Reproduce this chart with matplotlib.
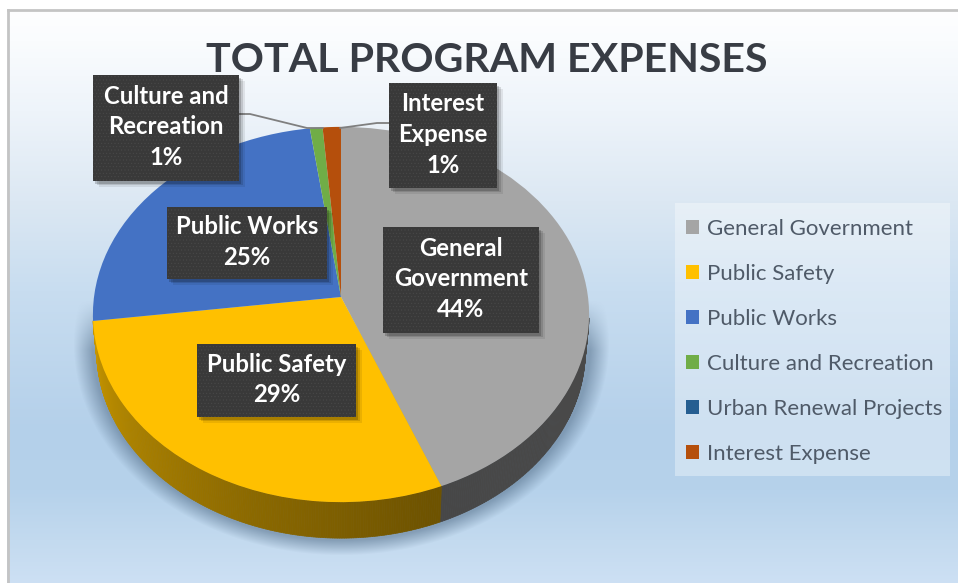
import numpy as np
import matplotlib
matplotlib.use("Agg")
import matplotlib.pyplot as plt
from matplotlib.collections import PolyCollection
from matplotlib.colors import to_rgb
from matplotlib.patches import Rectangle
from matplotlib.transforms import Transform

title = "TOTAL PROGRAM EXPENSES"
categories = ["General Government", "Public Safety", "Public Works",
              "Culture and Recreation", "Urban Renewal Projects", "Interest Expense"]
values = [43.9, 29.0, 24.8, 0.9, 0.0, 1.3]
shown_pct = ["44%", "29%", "25%", "1%", "", "1%"]
colors = ["#a5a5a5", "#ffc000", "#4472c4", "#70ad47", "#255e91", "#b54f0c"]

W, H = 958, 583
CX, CY, RX, RY, K, DEPTH = 341.0, 297.0, 247.0, 186.0, 0.0933, 36.0


def project(x, y):
    w = 1 + K * y
    return CX + RX * x / w, CY - RY * y / w


class Perspective(Transform):
    input_dims = output_dims = 2
    is_affine = False

    def transform_non_affine(self, pts):
        pts = np.asarray(pts, float)
        X, Y = project(pts[:, 0], pts[:, 1])
        return np.column_stack([X, Y])

    def inverted(self):
        raise NotImplementedError


plt.rcParams["font.family"] = ["Lato", "DejaVu Sans"]
plt.rcParams["hatch.linewidth"] = 0.35
fig = plt.figure(figsize=(W / 100, H / 100), dpi=100, facecolor="white")
ax = fig.add_axes([0, 0, 1, 1])

wedges, _ = ax.pie(values, colors=colors, startangle=90, counterclock=False,
                   radius=1.0, center=(0, 0), wedgeprops={"linewidth": 0})
persp = Perspective() + ax.transData
for w in wedges:
    w.set_transform(persp)
    w.set_zorder(5)
    w.set_clip_on(False)

# background
yy, xx = np.mgrid[0:H, 0:W]
stops_y = [10, 40, 110, 200, 290, 430, 490, 540, 583]
stops_r = [254, 250, 238, 220, 200, 180, 182, 195, 205]
stops_g = [254, 252, 244, 232, 221, 208, 210, 218, 224]
stops_b = [255, 254, 250, 243, 240, 234, 235, 239, 244]
bg = np.dstack([np.interp(yy, stops_y, s) for s in (stops_r, stops_g, stops_b)]) / 255.0
ax.imshow(bg, extent=(0, W, H, 0), aspect="auto", zorder=0, interpolation="bilinear")

# soft shadow
ds = np.sqrt(((xx - CX) / 268.0) ** 2 + ((yy - 343.0) / 212.0) ** 2)
alpha = np.clip((1 - ds) / 0.07, 0, 1) * np.clip((yy - 300) / 50.0, 0, 1) * 0.5
shadow = np.zeros((H, W, 4))
shadow[..., :3] = to_rgb("#4a6580")
shadow[..., 3] = alpha
ax.imshow(shadow, extent=(0, W, H, 0), aspect="auto", zorder=1, interpolation="bilinear")

# side wall, built from the same values as the wedges
ends = np.cumsum(values) / np.sum(values) * 360.0
starts = np.concatenate([[0.0], ends[:-1]])
verts, facecols = [], []
for s, e, c in zip(starts, ends, colors):
    if e <= s or s > 180:
        continue
    th = np.linspace(s, e, max(2, int((e - s) * 2)))
    base = np.array(to_rgb(c))
    for a, b in zip(th[:-1], th[1:]):
        if a < 96:
            continue
        ra, rb = np.radians([a, b])
        x0, y0 = project(np.sin(ra), np.cos(ra))
        x1, y1 = project(np.sin(rb), np.cos(rb))
        sx = 0.985
        verts.append([(x0, y0), (x1, y1),
                      (CX + (x1 - CX) * sx, y1 + DEPTH), (CX + (x0 - CX) * sx, y0 + DEPTH)])
        shade = np.interp(a, [90, 160, 200, 263], [0.45, 0.43, 0.55, 0.78])
        facecols.append(base * shade)
ax.add_collection(PolyCollection(verts, facecolors=facecols, edgecolors=facecols,
                                 linewidths=0.5, zorder=3))

# frame
ax.plot([8, 8], [H, 10], color="#c4c4c4", lw=2, zorder=6)
ax.plot([8, W], [10, 10], color="#c4c4c4", lw=2, zorder=6)
ax.add_patch(Rectangle((0, 0), 7, H, facecolor="white", lw=0, zorder=5.5))
ax.add_patch(Rectangle((0, 0), W, 9, facecolor="white", lw=0, zorder=5.5))

ax.text(487, 60, title, ha="center", va="center", fontsize=29.6, fontweight="bold",
        color="#383c44", zorder=7)

# leader lines
for lx, ly in [((239, 250, 307, 323), (114, 114, 128, 128)),
               ((340, 377, 389), (128, 123, 123))]:
    ax.plot(lx, ly, color="#7f7f7f", lw=1.3, zorder=7, solid_capstyle="round")

# data labels
boxes = [(383, 227, 539, 333), (197, 344, 356, 417), (167, 207, 327, 279),
         (93, 75, 239, 181), None, (389, 83, 497, 188)]
texts = ["General\nGovernment", "Public Safety", "Public Works",
         "Culture and\nRecreation", "", "Interest\nExpense"]
for box, txt, pct in zip(boxes, texts, shown_pct):
    if box is None:
        continue
    x0, y0, x1, y1 = box
    for off, a in [(6, 0.08), (4, 0.12), (2.5, 0.18)]:
        ax.add_patch(Rectangle((x0 + off, y0 + off), x1 - x0, y1 - y0, facecolor="black",
                               alpha=a, lw=0, zorder=8))
    ax.add_patch(Rectangle((x0, y0), x1 - x0, y1 - y0, facecolor="#393939",
                           edgecolor="#4a4a4a", hatch=".....", lw=0, zorder=9))
    ax.text((x0 + x1) / 2, (y0 + y1) / 2 - 1, txt + "\n" + pct, ha="center", va="center",
            color="white", fontsize=17.2, fontweight="bold", linespacing=1.42, zorder=10)

# legend panel and legend
ax.add_patch(Rectangle((675, 203), 275, 273, facecolor="white", alpha=0.35, lw=0, zorder=6))
leg = ax.legend(wedges, categories, loc="upper left", bbox_to_anchor=(675, 208),
                bbox_transform=ax.transData, fontsize=16, frameon=False,
                handlelength=0.58, handleheight=0.58, handletextpad=0.38,
                labelspacing=1.12, borderpad=0.5, borderaxespad=0, labelcolor="#4f5a68")
leg.set_zorder(7)

ax.set_xlim(0, W)
ax.set_ylim(H, 0)
ax.set_aspect("auto")
ax.axis("off")
fig.savefig("out.png", dpi=100, facecolor="white")
